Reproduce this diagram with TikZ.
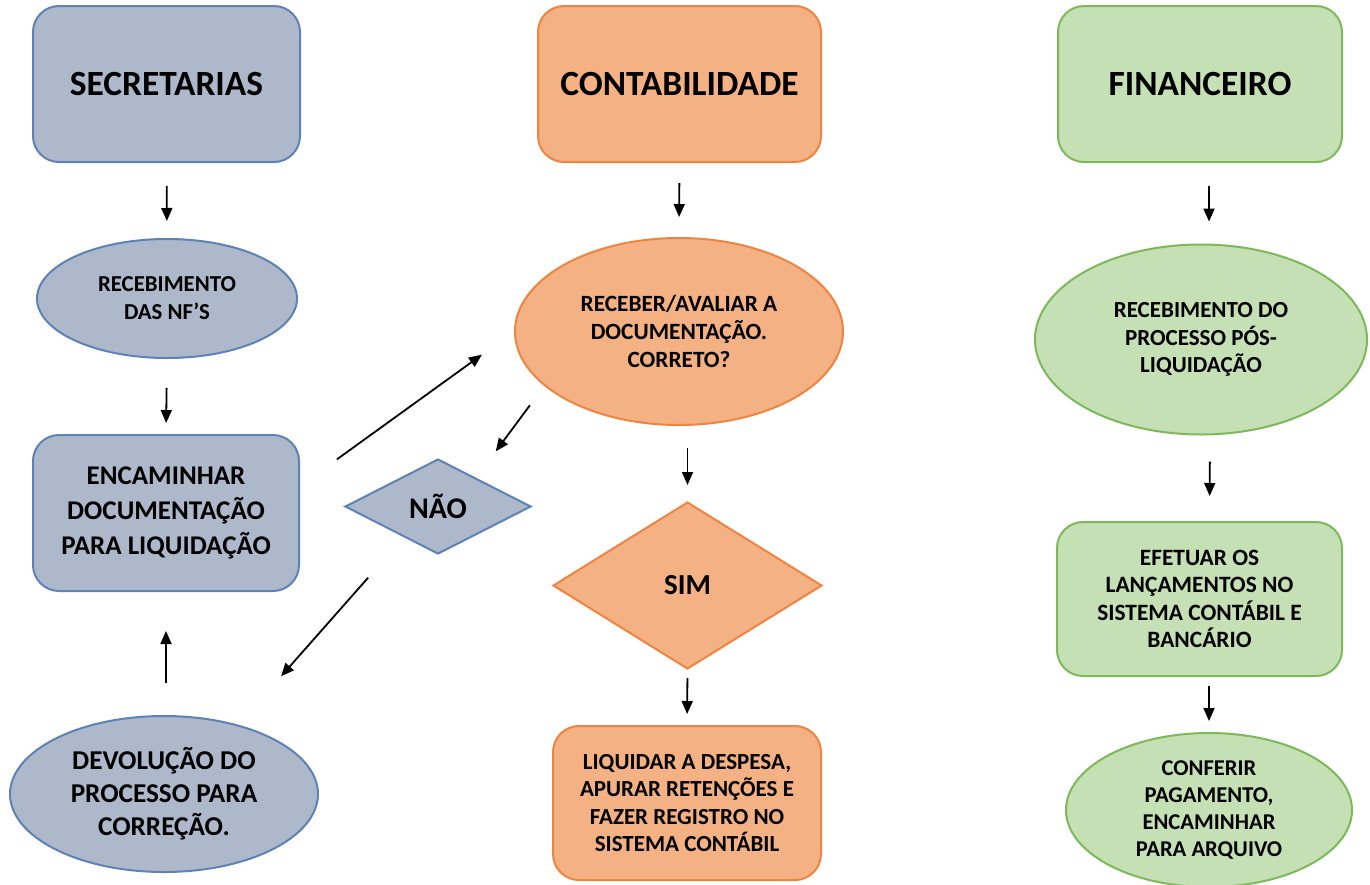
\documentclass[tikz,border=0pt]{standalone}
\usepackage{fontspec}
\setmainfont{Carlito}
\usetikzlibrary{shapes.geometric, arrows.meta}

\definecolor{secfill}{HTML}{ADB9CA}
\definecolor{secline}{HTML}{5E82B5}
\definecolor{ctbfill}{HTML}{F4B183}
\definecolor{ctbline}{HTML}{EF8440}
\definecolor{finfill}{HTML}{C5E0B4}
\definecolor{finline}{HTML}{7DB85B}

\tikzset{
  box/.style={rectangle, rounded corners=13pt, line width=1pt, align=center, inner sep=0pt},
  oval/.style={ellipse, line width=1pt, align=center, inner sep=0pt},
  losango/.style={diamond, line width=1pt, align=center, inner sep=0pt},
  secr/.style={fill=secfill, draw=secline},
  cont/.style={fill=ctbfill, draw=ctbline},
  fina/.style={fill=finfill, draw=finline},
  titulo/.style={font=\fontsize{17.7}{20}\selectfont\bfseries},
  texto/.style={font=\fontsize{11.5}{13.6}\selectfont\bfseries},
  arr/.style={-{Triangle[length=6.5pt,width=5.5pt]}, line width=0.9pt}
}

\begin{document}
\begin{tikzpicture}[x=0.5pt, y=-0.5pt]
  \useasboundingbox (0,0) rectangle (1370,884);

  % Secretarias
  \node[box, secr, titulo, minimum width=133.5pt, minimum height=78pt] (sec) at (166.5,84) {SECRETARIAS};
  \node[oval, secr, minimum width=130pt, minimum height=59.5pt,
        font=\fontsize{11.4}{14}\selectfont\bfseries] (rnf) at (167,298.5) {RECEBIMENTO\\DAS NF’S};
  \node[box, secr, minimum width=133pt, minimum height=78pt,
        font=\fontsize{13.5}{17.3}\selectfont\bfseries] (enc) at (166,513) {ENCAMINHAR\\DOCUMENTAÇÃO\\PARA LIQUIDAÇÃO};
  \node[oval, secr, minimum width=154pt, minimum height=78pt,
        font=\fontsize{13.6}{16.4}\selectfont\bfseries] (dev) at (164,794) {DEVOLUÇÃO DO\\PROCESSO PARA\\CORREÇÃO.};
  \node[losango, secr, minimum width=93pt, minimum height=47.5pt,
        font=\fontsize{15}{17}\selectfont\bfseries] (nao) at (438,506.5) {NÃO};

  \draw[arr, shorten <=11.5pt, shorten >=8.5pt] (sec.south) -- (rnf.north);
  \draw[arr, shorten <=14.5pt, shorten >=5.5pt] (rnf.south) -- (enc.north);
  \draw[arr, shorten <=16pt, shorten >=19.5pt] (enc.south |- dev.north) -- (enc.south);

  % Contabilidade
  \node[box, cont, titulo, minimum width=141.5pt, minimum height=78pt] (ctb) at (679.5,84) {CONTABILIDADE};
  \node[oval, cont, minimum width=164pt, minimum height=93.5pt,
        font=\fontsize{11.65}{14}\selectfont\bfseries] (aval) at (679,331.5) {RECEBER/AVALIAR A\\DOCUMENTAÇÃO.\\CORRETO?};
  \node[losango, cont, minimum width=134.5pt, minimum height=83.5pt,
        font=\fontsize{14.5}{17}\selectfont\bfseries] (sim) at (687.5,585.5) {SIM};
  \node[box, cont, texto, minimum width=134pt, minimum height=77pt] (liq) at (687,803)
        {LIQUIDAR A DESPESA,\\APURAR RETENÇÕES E\\FAZER REGISTRO NO\\SISTEMA CONTÁBIL};

  \draw[arr, shorten <=10pt, shorten >=10pt] (ctb.south) -- (aval.north);
  \draw[arr, shorten <=11pt, shorten >=8pt] (sim.north |- aval.south) -- (sim.north);
  \draw[arr, shorten <=4pt, shorten >=5.5pt] (sim.south) -- (liq.north);

  % idas e voltas
  \draw[arr, shorten <=22.8pt, shorten >=19.8pt] ([yshift=13.5pt]enc.east) -- (aval.west);
  \draw[arr, shorten <=12pt, shorten >=16.4pt] (aval.202.5) -- (nao.37);
  \draw[arr, shorten <=26.9pt, shorten >=32.3pt] (nao.222.5) -- (dev.43);

  % Financeiro
  \node[box, fina, titulo, minimum width=142pt, minimum height=78pt] (fin) at (1200,84) {FINANCEIRO};
  \node[oval, fina, texto, minimum width=166pt, minimum height=95pt] (frec) at (1201,339.5)
        {RECEBIMENTO DO\\PROCESSO PÓS-\\LIQUIDAÇÃO};
  \node[box, fina, minimum width=142.5pt, minimum height=77pt,
        font=\fontsize{11.7}{13.7}\selectfont\bfseries] (efet) at (1199.5,599)
        {EFETUAR OS\\LANÇAMENTOS NO\\SISTEMA CONTÁBIL E\\BANCÁRIO};
  \node[oval, fina, minimum width=143pt, minimum height=77pt,
        font=\fontsize{11.3}{13.6}\selectfont\bfseries] (conf) at (1209,810)
        {CONFERIR\\PAGAMENTO,\\ENCAMINHAR\\PARA ARQUIVO};

  \draw[arr, shorten <=11.5pt, shorten >=11pt] ([xshift=4.5pt]fin.south) -- ([xshift=4pt]frec.north);
  \draw[arr, shorten <=13pt, shorten >=12.5pt] ([xshift=4.5pt]frec.south) -- ([xshift=5pt]efet.north);
  \draw[arr, shorten <=4.5pt, shorten >=5.5pt] (conf.north |- efet.south) -- (conf.north);
\end{tikzpicture}
\end{document}
